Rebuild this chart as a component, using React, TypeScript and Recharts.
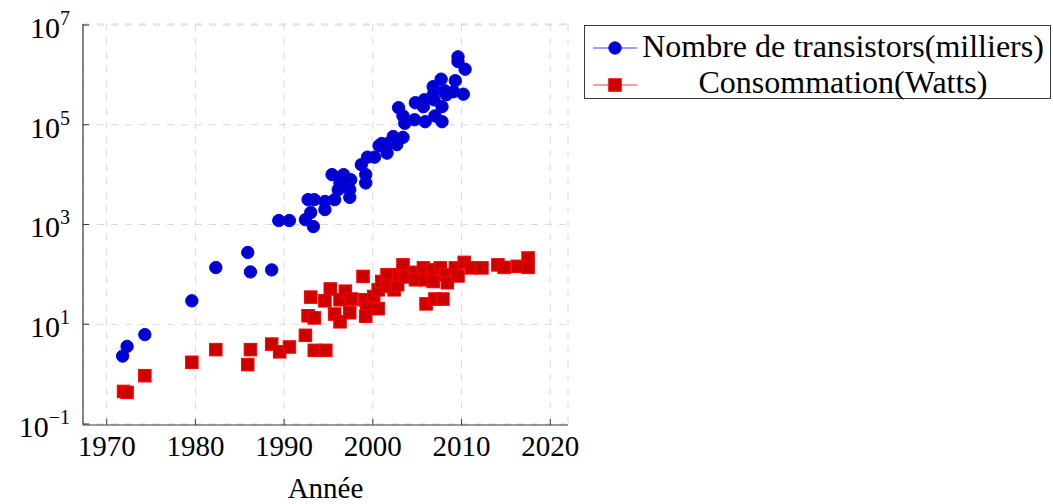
import React from "react";
import {
  ScatterChart,
  Scatter,
  XAxis,
  YAxis,
  CartesianGrid,
} from "recharts";

if (typeof document !== "undefined") {
  document.body.style.margin = "0";
}

const transistorYears = [
  1971.8, 1972.3, 1974.3, 1979.6, 1982.3, 1985.9, 1986.2, 1988.6, 1989.4, 1990.6,
  1992.4, 1993.0, 1993.3, 1992.7, 1993.4, 1994.6, 1994.6, 1995.7, 1995.4, 1996.7,
  1997.5, 1996.3, 1997.4, 1996.1, 1997.4, 1996.9, 1998.7, 1999.4, 1999.2, 1999.2,
  2000.2, 2000.7, 2001.6, 2001.7, 2002.3, 2002.7, 2003.4, 2001.0, 2002.9, 2003.4,
  2003.6, 2004.8, 2004.7, 2005.8, 2005.7, 2005.9, 2006.8, 2006.8, 2006.9, 2007.0,
  2007.7, 2007.8, 2007.8, 2008.1, 2008.3, 2009.1, 2009.3, 2009.6, 2009.6, 2010.4,
  2010.2,
];
const transistorCounts = [
  2.3, 3.6, 6.2, 29.5, 137, 275, 112, 123, 1200, 1200,
  1250, 1740, 910, 3150, 3150, 2900, 1990, 3150, 10000, 10000,
  7900, 6800, 5000, 5000, 3500, 8500, 15800, 22400, 10000, 6800,
  22400, 38000, 27000, 42000, 58000, 40000, 56000, 42000, 220000, 150000,
  107000, 277000, 126000, 316000, 230000, 115000, 580000, 400000, 316000, 150000,
  820000, 230000, 115000, 480000, 400000, 460000, 765000, 2300000, 1850000, 1300000,
  410000,
];

const powerYears = [
  1971.9, 1972.3, 1974.3, 1979.6, 1982.3, 1985.9, 1986.2, 1988.6, 1989.5, 1990.6,
  1992.4, 1993.4, 1994.7, 1992.7, 1993.4, 1993.0, 1994.6, 1995.2, 1995.7, 1996.3,
  1996.3, 1996.9, 1997.4, 1997.6, 1998.9, 1999.1, 1999.3, 1999.2, 2000.1, 2000.6,
  2000.6, 2001.0, 2001.6, 2001.7, 2002.4, 2002.8, 2002.9, 2003.4, 2003.6, 2004.8,
  2004.8, 2005.7, 2005.9, 2006.0, 2006.8, 2006.8, 2007.0, 2007.6, 2007.9, 2008.1,
  2008.4, 2009.3, 2009.6, 2010.3, 2011.1, 2012.3, 2014.1, 2014.8, 2016.3, 2017.5,
  2017.5,
];
const powerWatts = [
  0.45, 0.43, 0.93, 1.73, 3.1, 1.55, 3.1, 4.0, 2.8, 3.5,
  6.0, 3.0, 3.0, 14.8, 13.4, 35, 29.5, 51, 16, 11.2,
  31, 46, 17, 32, 91, 31, 21, 14.5, 36, 20.5,
  49, 72, 98, 58, 49, 62, 98, 155, 89, 110,
  78, 135, 78, 25.6, 123, 72, 32, 135, 32, 98,
  68, 135, 93, 174, 135, 135, 155, 138, 145, 213,
  138,
];

const xTicks = [1970, 1980, 1990, 2000, 2010, 2020];
const yTicks = [0.1, 10, 1000, 100000, 10000000];
const yExponents = ["\u22121", "1", "3", "5", "7"];

const seriesNames = ["Nombre de transistors(milliers)", "Consommation(Watts)"];

const transistorData = transistorYears.map((year, i) => ({ year, value: transistorCounts[i] }));
const powerData = powerYears.map((year, i) => ({ year, value: powerWatts[i] }));

const FONT = "'Liberation Serif', 'Times New Roman', serif";
const AXIS_COLOR = "#3a3a3a";
const BLUE_FILL = "#0000cc";
const BLUE_STROKE = "#0000ff";
const RED_FILL = "#cc0000";
const RED_STROKE = "#ff0000";
const X_DOMAIN: [number, number] = [1967.33, 2022.0];
const Y_DOMAIN: [number, number] = [0.0955, 10470000];

const CircleShape = (props: any) => {
  const { cx, cy } = props;
  if (cx == null || cy == null) return null;
  return <circle cx={cx} cy={cy} r={6.2} fill={BLUE_FILL} stroke={BLUE_STROKE} strokeWidth={1} />;
};

const SquareShape = (props: any) => {
  const { cx, cy } = props;
  if (cx == null || cy == null) return null;
  const s = 12.5;
  return (
    <rect x={cx - s / 2} y={cy - s / 2} width={s} height={s} fill={RED_FILL} stroke={RED_STROKE} strokeWidth={1} />
  );
};

const NoShape = () => null;

const XTick = (props: any) => {
  const { x, y, payload } = props;
  return (
    <text x={x} y={y + 31} textAnchor="middle" fontFamily={FONT} fontSize={29} fill="#000">
      {payload.value}
    </text>
  );
};

const YTick = (props: any) => {
  const { x, y, payload } = props;
  const idx = yTicks.indexOf(payload.value);
  const exp = idx >= 0 ? yExponents[idx] : "";
  return (
    <text x={x} y={y + 13} textAnchor="end" fontFamily={FONT} fontSize={30} fill="#000">
      <tspan>10</tspan>
      <tspan dy={-13} fontSize={20}>{exp}</tspan>
    </text>
  );
};

const LegendBox = () => (
  <svg width={470} height={80} style={{ display: "block" }}>
    <rect x={0.5} y={0.5} width={466} height={73} fill="#fff" stroke={AXIS_COLOR} strokeWidth={1} />
    <line x1={9} x2={53} y1={23} y2={23} stroke="#3c3cff" strokeWidth={1.2} />
    <circle cx={31} cy={23} r={6.2} fill={BLUE_FILL} stroke={BLUE_STROKE} strokeWidth={1} />
    <text x={259} y={32} textAnchor="middle" fontFamily={FONT} fontSize={32} fill="#000">
      {seriesNames[0]}
    </text>
    <line x1={9} x2={53} y1={60} y2={60} stroke="#ff3c3c" strokeWidth={1.2} />
    <rect x={31 - 6.25} y={60 - 6.25} width={12.5} height={12.5} fill={RED_FILL} stroke={RED_STROKE} strokeWidth={1} />
    <text x={259} y={68} textAnchor="middle" fontFamily={FONT} fontSize={32} fill="#000">
      {seriesNames[1]}
    </text>
  </svg>
);

export default function App() {
  return (
    <div style={{ position: "relative", width: 1053, height: 504, background: "#fff" }}>
      <ScatterChart
        width={1053}
        height={504}
        margin={{ top: 24, right: 485, bottom: 0, left: 0 }}
      >
        <CartesianGrid
          xAxisId="bottom"
          yAxisId="left"
          stroke="#d9d9d9"
          strokeDasharray="7 7"
          strokeWidth={1}
        />
        <XAxis
          xAxisId="bottom"
          dataKey="year"
          type="number"
          domain={X_DOMAIN}
          ticks={xTicks}
          height={79}
          tickSize={-6}
          tickMargin={6}
          tick={<XTick />}
          axisLine={{ stroke: AXIS_COLOR, strokeWidth: 1.2 }}
          tickLine={{ stroke: AXIS_COLOR, strokeWidth: 1 }}
          allowDataOverflow
          label={{
            value: "Année",
            position: "insideBottom",
            offset: 6,
            style: { fontFamily: FONT, fontSize: 29, fill: "#000" },
          }}
        />
        <XAxis
          xAxisId="top"
          orientation="top"
          dataKey="year"
          type="number"
          domain={X_DOMAIN}
          ticks={xTicks}
          height={0}
          tickSize={-6}
          tick={false}
          axisLine={{ stroke: AXIS_COLOR, strokeWidth: 1.2 }}
          tickLine={{ stroke: AXIS_COLOR, strokeWidth: 1 }}
          allowDataOverflow
        />
        <YAxis
          yAxisId="left"
          dataKey="value"
          type="number"
          scale="log"
          domain={Y_DOMAIN}
          ticks={yTicks}
          width={83}
          tickSize={-6}
          tickMargin={19}
          tick={<YTick />}
          axisLine={{ stroke: AXIS_COLOR, strokeWidth: 1.2 }}
          tickLine={{ stroke: AXIS_COLOR, strokeWidth: 1 }}
          allowDataOverflow
        />
        <YAxis
          yAxisId="right"
          orientation="right"
          dataKey="value"
          type="number"
          scale="log"
          domain={Y_DOMAIN}
          ticks={yTicks}
          width={0}
          tickSize={-6}
          tick={false}
          axisLine={{ stroke: AXIS_COLOR, strokeWidth: 1.2 }}
          tickLine={{ stroke: AXIS_COLOR, strokeWidth: 1 }}
          allowDataOverflow
        />
        <Scatter
          data={transistorData}
          xAxisId="top"
          yAxisId="right"
          shape={<NoShape />}
          legendType="none"
          isAnimationActive={false}
        />
        <Scatter
          name={seriesNames[0]}
          data={transistorData}
          xAxisId="bottom"
          yAxisId="left"
          shape={<CircleShape />}
          isAnimationActive={false}
        />
        <Scatter
          name={seriesNames[1]}
          data={powerData}
          xAxisId="bottom"
          yAxisId="left"
          shape={<SquareShape />}
          isAnimationActive={false}
        />
      </ScatterChart>
      <div style={{ position: "absolute", left: 584, top: 25 }}>
        <LegendBox />
      </div>
    </div>
  );
}
